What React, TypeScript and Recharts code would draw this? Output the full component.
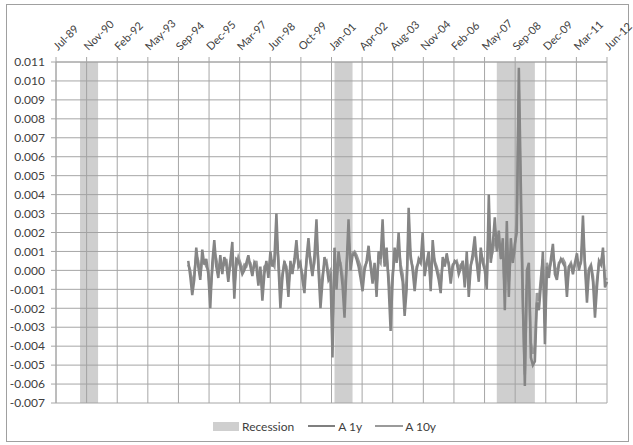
import { ComposedChart, Line, XAxis, YAxis, CartesianGrid, ReferenceArea } from "recharts";

// months are counted from Jul-89 (= 0); the axis runs Jul-89 .. Jun-12
const xTickLabels = [
  "Jul-89", "Nov-90", "Feb-92", "May-93", "Sep-94", "Dec-95", "Mar-97", "Jun-98", "Oct-99", "Jan-01",
  "Apr-02", "Aug-03", "Nov-04", "Feb-06", "May-07", "Sep-08", "Dec-09", "Mar-11", "Jun-12",
];
const axisMonths = 275;
const firstMonth = 66; // Jan-95

const yTicks = [
  -0.007, -0.006, -0.005, -0.004, -0.003, -0.002, -0.001, 0, 0.001, 0.002,
  0.003, 0.004, 0.005, 0.006, 0.007, 0.008, 0.009, 0.01, 0.011,
];

const recessionStart = [12, 139, 220];
const recessionEnd = [21, 148, 239];

const a1y = [
  0.0005, -0.0003, -0.0013, -0.0005, 0.0012, 0.0002, -0.0005, 0.0011, 0.0003, 0.0006,
  -0.0002, -0.0020, 0.0004, 0.0016, 0.0002, -0.0004, 0.0008, -0.0002, 0.0007, 0.0003,
  -0.0006, 0.0005, 0.0015, -0.0015, 0.0006, 0.0005, 0.0002, -0.0002, 0.0000, 0.0004,
  0.0008, 0.0002, -0.0003, 0.0004, 0.0002, -0.0008, 0.0002, -0.0016, -0.0002, 0.0005,
  -0.0004, 0.0010, 0.0002, 0.0006, 0.0030, 0.0003, -0.0020, -0.0004, 0.0005, 0.0000,
  -0.0014, 0.0005, -0.0002, 0.0006, 0.0016, 0.0002, 0.0004, -0.0005, -0.0012, 0.0006,
  0.0017, 0.0004, -0.0003, 0.0008, 0.0027, 0.0000, -0.0020, -0.0006, 0.0007, 0.0003,
  -0.0005, -0.0003, -0.0046, 0.0012, -0.0010, 0.0010, 0.0002, -0.0008, -0.0025, 0.0002,
  0.0027, 0.0000, 0.0008, 0.0009, 0.0006, 0.0002, -0.0004, -0.0011, 0.0000, 0.0005,
  0.0013, 0.0002, -0.0007, 0.0004, -0.0014, 0.0010, 0.0006, 0.0027, 0.0002, 0.0012,
  -0.0008, -0.0032, -0.0005, 0.0012, 0.0004, 0.0020, 0.0000, -0.0006, -0.0024, -0.0010,
  0.0033, 0.0008, 0.0000, -0.0011, 0.0000, 0.0006, 0.0004, 0.0020, -0.0003, 0.0004,
  0.0010, -0.0011, 0.0016, 0.0004, 0.0000, -0.0005, -0.0012, 0.0007, 0.0002, 0.0009,
  0.0003, -0.0007, 0.0002, 0.0005, 0.0004, -0.0002, 0.0001, 0.0005, -0.0009, 0.0010,
  -0.0014, 0.0002, 0.0009, 0.0018, 0.0004, -0.0006, 0.0012, 0.0004, 0.0000, -0.0010,
  0.0040, 0.0004, 0.0014, 0.0028, 0.0010, 0.0021, 0.0006, 0.0017, -0.0021, 0.0026,
  -0.0014, 0.0017, 0.0004, 0.0014, 0.0020, 0.0107, 0.0045, -0.0014, -0.0061, 0.0000,
  0.0004, -0.0046, -0.0050, -0.0048, -0.0017, -0.0021, -0.0008, 0.0010, -0.0039, 0.0002,
  -0.0004, 0.0006, 0.0014, -0.0002, -0.0005, 0.0003, 0.0006, 0.0004, 0.0002, -0.0014,
  0.0002, 0.0003, -0.0002, 0.0004, 0.0009, 0.0000, 0.0005, 0.0029, 0.0002, -0.0017,
  0.0000, 0.0002, -0.0006, -0.0025, -0.0009, 0.0005, 0.0003, 0.0012, -0.0009, -0.0006,
];

const a10y = [
  0.0003, 0.0000, -0.0008, -0.0002, 0.0008, 0.0005, -0.0003, 0.0006, 0.0005, 0.0002,
  0.0000, -0.0012, 0.0000, 0.0010, 0.0006, 0.0000, 0.0004, 0.0002, 0.0003, 0.0006,
  -0.0002, 0.0002, 0.0009, -0.0008, 0.0002, 0.0007, 0.0004, 0.0000, 0.0003, 0.0002,
  0.0005, 0.0004, 0.0000, 0.0002, 0.0005, -0.0004, 0.0000, -0.0010, 0.0002, 0.0003,
  0.0000, 0.0006, 0.0004, 0.0002, 0.0018, 0.0006, -0.0012, -0.0002, 0.0004, 0.0002,
  -0.0008, 0.0002, 0.0000, 0.0004, 0.0010, 0.0005, 0.0002, -0.0002, -0.0007, 0.0004,
  0.0011, 0.0006, -0.0001, 0.0004, 0.0017, 0.0004, -0.0012, -0.0003, 0.0004, 0.0005,
  -0.0002, 0.0000, -0.0030, 0.0006, -0.0004, 0.0006, 0.0004, -0.0003, -0.0014, 0.0002,
  0.0016, 0.0006, 0.0009, 0.0010, 0.0008, 0.0005, 0.0002, -0.0006, 0.0002, 0.0004,
  0.0008, 0.0004, -0.0003, 0.0002, -0.0008, 0.0006, 0.0004, 0.0016, 0.0004, 0.0007,
  -0.0003, -0.0020, -0.0002, 0.0007, 0.0006, 0.0012, 0.0003, -0.0002, -0.0014, -0.0005,
  0.0020, 0.0006, 0.0002, -0.0006, 0.0002, 0.0004, 0.0005, 0.0012, 0.0000, 0.0003,
  0.0006, -0.0006, 0.0009, 0.0005, 0.0002, -0.0002, -0.0007, 0.0004, 0.0003, 0.0006,
  0.0004, -0.0004, 0.0003, 0.0004, 0.0005, 0.0001, 0.0003, 0.0004, -0.0005, 0.0006,
  -0.0008, 0.0003, 0.0006, 0.0011, 0.0005, -0.0002, 0.0008, 0.0006, 0.0002, -0.0005,
  0.0024, 0.0006, 0.0010, 0.0017, 0.0012, 0.0014, 0.0008, 0.0011, -0.0012, 0.0015,
  -0.0006, 0.0010, 0.0006, 0.0010, 0.0030, 0.0095, 0.0030, -0.0020, -0.0055, -0.0008,
  -0.0004, -0.0038, -0.0044, -0.0040, -0.0012, -0.0016, -0.0004, 0.0006, -0.0028, 0.0004,
  0.0000, 0.0004, 0.0009, 0.0002, -0.0002, 0.0004, 0.0005, 0.0006, 0.0004, -0.0008,
  0.0002, 0.0004, 0.0000, 0.0003, 0.0006, 0.0002, 0.0004, 0.0018, 0.0004, -0.0010,
  0.0001, 0.0003, -0.0003, -0.0016, -0.0005, 0.0004, 0.0005, 0.0008, -0.0004, -0.0005,
];

const rows = a1y.map((v, i) => ({ t: firstMonth + i, a1: v, a10: a10y[i] }));
const xTicks = xTickLabels.map((_, i) => (i * axisMonths) / (xTickLabels.length - 1));

const FONT = "Lato, 'Open Sans', sans-serif";
const TEXT = "#404040";
const GRID = "#a6a6a6";
const PLOT_TOP = 62;

function TopTick(props: any) {
  const { x, index } = props;
  const px = x + 2;
  const py = PLOT_TOP - 11;
  return (
    <text
      x={px}
      y={py}
      transform={`rotate(-45 ${px} ${py})`}
      textAnchor="start"
      fontSize={11}
      fontFamily={FONT}
      fill={TEXT}
    >
      {xTickLabels[index]}
    </text>
  );
}

function LegendRow() {
  const item = { display: "flex", alignItems: "center" } as const;
  return (
    <div
      style={{
        position: "absolute",
        left: 213,
        top: 418,
        display: "flex",
        alignItems: "center",
        fontFamily: FONT,
        fontSize: 12,
        color: TEXT,
        height: 16,
      }}
    >
      <div style={item}>
        <span style={{ width: 26, height: 9, background: "#cfcfcf", marginRight: 3 }} />
        <span>Recession</span>
      </div>
      <div style={{ ...item, marginLeft: 14 }}>
        <span style={{ width: 27, height: 2.5, background: "#7f7f7f", marginRight: 3 }} />
        <span>A 1y</span>
      </div>
      <div style={{ ...item, marginLeft: 13 }}>
        <span style={{ width: 28, height: 2.5, background: "#9a9a9a", marginRight: 2 }} />
        <span>A 10y</span>
      </div>
    </div>
  );
}

export default function App() {
  return (
    <div style={{ position: "absolute", left: 0, top: 0, width: 633, height: 445, background: "#fff" }}>
      <div
        style={{
          position: "absolute",
          left: 6,
          top: 4,
          width: 621,
          height: 436,
          border: "1px solid #a0a0a0",
        }}
      />
      <ComposedChart
        width={633}
        height={445}
        data={rows}
        margin={{ top: 0, right: 26, bottom: 42, left: 0 }}
        style={{ position: "absolute", left: 0, top: 0 }}
      >
        <CartesianGrid stroke={GRID} strokeWidth={1} />
        {recessionStart.map((s, i) => (
          <ReferenceArea
            key={i}
            x1={s}
            x2={recessionEnd[i]}
            y1={-0.007}
            y2={0.011}
            fill="#9f9f9f"
            fillOpacity={0.5}
            stroke="none"
          />
        ))}
        <XAxis
          dataKey="t"
          type="number"
          orientation="top"
          domain={[0, axisMonths]}
          ticks={xTicks}
          interval={0}
          height={PLOT_TOP}
          tickSize={5}
          tickMargin={2}
          stroke={GRID}
          tick={<TopTick />}
        />
        <YAxis
          type="number"
          domain={[-0.007, 0.011]}
          ticks={yTicks}
          interval={0}
          width={56}
          tickSize={5}
          tickMargin={6}
          stroke={GRID}
          tickFormatter={(v: number) => v.toFixed(3)}
          tick={{ fill: TEXT, fontSize: 12, fontFamily: FONT }}
        />
        <Line
          type="linear"
          dataKey="a10"
          stroke="#9a9a9a"
          strokeWidth={2.5}
          dot={false}
          isAnimationActive={false}
        />
        <Line
          type="linear"
          dataKey="a1"
          stroke="#858585"
          strokeWidth={2.5}
          dot={false}
          isAnimationActive={false}
        />
      </ComposedChart>
      <LegendRow />
    </div>
  );
}
